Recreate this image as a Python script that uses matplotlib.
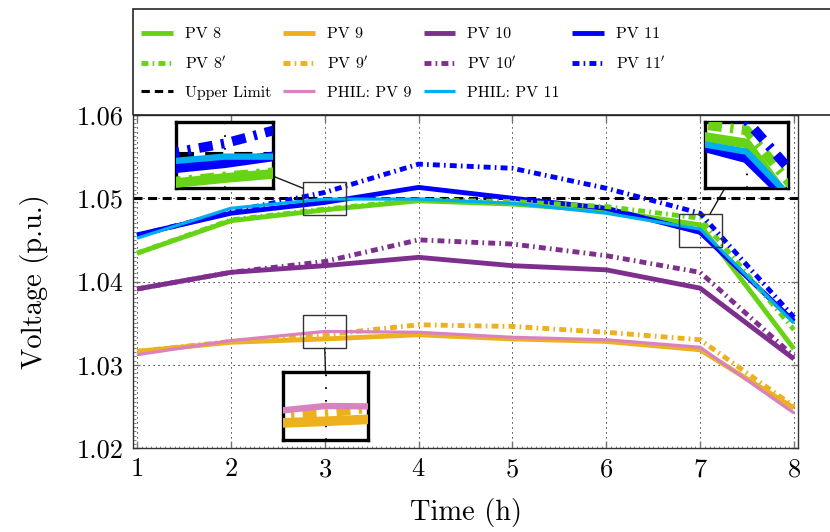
import matplotlib
matplotlib.use("Agg")
import matplotlib.pyplot as plt
from matplotlib.lines import Line2D
from matplotlib.patches import Rectangle, ConnectionPatch
from matplotlib.ticker import MultipleLocator, FormatStrFormatter

plt.rcParams['font.family'] = 'serif'
plt.rcParams['font.serif'] = ['cmr10', 'DejaVu Serif']
plt.rcParams['mathtext.fontset'] = 'cm'
plt.rcParams['axes.formatter.use_mathtext'] = True
plt.rcParams['axes.unicode_minus'] = False
plt.rcParams['lines.scale_dashes'] = False

# ---------------- data ----------------
hours = [1, 2, 3, 4, 5, 6, 7, 8]
pv8 = [1.0434, 1.0473, 1.0486, 1.0497, 1.0493, 1.0485, 1.0468, 1.0319]
pv9 = [1.0316, 1.0327, 1.0331, 1.0336, 1.0331, 1.0328, 1.0318, 1.0248]
pv10 = [1.0391, 1.0411, 1.0419, 1.0429, 1.0419, 1.0414, 1.0392, 1.0307]
pv11 = [1.0456, 1.0482, 1.0495, 1.0513, 1.0500, 1.0488, 1.0459, 1.0352]
pv8p = [1.0434, 1.0474, 1.0487, 1.0498, 1.0496, 1.0490, 1.0476, 1.0342]
pv9p = [1.0316, 1.0328, 1.0336, 1.0348, 1.0346, 1.0339, 1.0330, 1.0250]
pv10p = [1.0391, 1.0411, 1.0424, 1.0450, 1.0445, 1.0431, 1.0411, 1.0310]
pv11p = [1.0455, 1.0484, 1.0507, 1.0541, 1.0536, 1.0512, 1.0482, 1.0357]
phil9 = [1.0312, 1.0329, 1.0340, 1.0339, 1.0333, 1.0330, 1.0321, 1.0242]
phil11 = [1.0452, 1.0488, 1.0499, 1.0499, 1.0494, 1.0482, 1.0463, 1.0350]
upper_limit = 1.05

labels = {
    'pv8': 'PV 8', 'pv9': 'PV 9', 'pv10': 'PV 10', 'pv11': 'PV 11',
    'pv8p': r'PV 8$^{\prime}$', 'pv9p': r'PV 9$^{\prime}$',
    'pv10p': r'PV 10$^{\prime}$', 'pv11p': r'PV 11$^{\prime}$',
    'ul': 'Upper Limit', 'phil9': 'PHIL: PV 9', 'phil11': 'PHIL: PV 11',
}

GREEN = '#66d414'
ORANGE = '#edb120'
PURPLE = '#7e2f8e'
BLUE = '#0000ff'
PINK = '#da82be'
CYAN = '#00aeef'

DD = (5.0, 3.0, 1.2, 3.0)
series = [
    ('pv8', pv8, GREEN, 'solid', 3.5),
    ('pv9', pv9, ORANGE, 'solid', 3.5),
    ('pv10', pv10, PURPLE, 'solid', 3.5),
    ('pv11', pv11, BLUE, 'solid', 3.5),
    ('pv8p', pv8p, GREEN, 'dd', 3.5),
    ('pv9p', pv9p, ORANGE, 'dd', 3.5),
    ('pv10p', pv10p, PURPLE, 'dd', 3.5),
    ('pv11p', pv11p, BLUE, 'dd', 3.5),
    ('phil9', phil9, PINK, 'solid', 2.3),
    ('phil11', phil11, CYAN, 'solid', 2.3),
]


def draw(ax, scale=1.0):
    hs = {}
    for key, vals, col, ls, lw in series:
        if ls == 'dd':
            style = (0, tuple(d * scale for d in DD))
        else:
            style = '-'
        ln, = ax.plot(hours, vals, color=col, lw=lw * scale, linestyle=style,
                      solid_joinstyle='miter', solid_capstyle='butt',
                      dash_capstyle='butt', zorder=3)
        hs[key] = ln
    ul = ax.axhline(upper_limit, color='black', lw=2.2 * scale,
                    linestyle=(0, (6.5 * scale, 4.0 * scale)), zorder=2.5)
    hs['ul'] = ul
    for k in ('phil9', 'phil11'):
        hs[k].set_zorder(4)
    return hs


fig = plt.figure(figsize=(8.3, 5.32), dpi=100)
ax = fig.add_axes([133 / 830, 1 - 448 / 532, 665 / 830, 333 / 532])
hs = draw(ax)

ax.set_xlim(0.957, 8.043)
ax.set_ylim(1.02, 1.06)
ax.set_xticks(hours)
ax.set_yticks([1.02, 1.03, 1.04, 1.05, 1.06])
ax.yaxis.set_major_formatter(FormatStrFormatter('%.2f'))
ax.xaxis.set_minor_locator(MultipleLocator(0.05))
ax.yaxis.set_minor_locator(MultipleLocator(0.0005))
ax.tick_params(which='major', direction='in', length=5, width=1.0, color='0.45',
               top=True, right=True, labelsize=19, pad=7)
ax.tick_params(which='minor', direction='in', length=1.8, width=0.7, color='0.5',
               top=False, right=False)
ax.grid(True, which='major', color='black', lw=0.7, linestyle=(0, (0.8, 2.8)))
for s in ax.spines.values():
    s.set_color('0.2')
    s.set_linewidth(1.0)
ax.set_xlabel('Time (h)', fontsize=20.5, labelpad=12)
ax.set_ylabel('Voltage (p.u.)', fontsize=20.5, labelpad=20)

# ---------------- zoom rectangles & insets ----------------
zooms = [
    (3.0, 1.0500, [176 / 830, 1 - 188 / 532, 97 / 830, 66 / 532]),
    (3.0, 1.0340, [283 / 830, 1 - 440 / 532, 85 / 830, 68 / 532]),
    (7.0, 1.0461, [705 / 830, 1 - 188 / 532, 83 / 830, 66 / 532]),
]
hw, hh = 0.23, 0.0020
insets = []
for cx, cy, pos in zooms:
    ax.add_patch(Rectangle((cx - hw, cy - hh), 2 * hw, 2 * hh, fill=False,
                           edgecolor='0.2', lw=1.0, zorder=6))
    ia = fig.add_axes(pos)
    draw(ia, scale=2.0)
    ia.set_xlim(cx - hw, cx + hw)
    ia.set_ylim(cy - hh, cy + hh)
    ia.set_xticks([cx])
    ia.set_yticks([])
    ia.tick_params(length=0, labelbottom=False)
    ia.grid(True, axis='x', color='black', lw=1.4, linestyle=(0, (1.2, 8)))
    for s in ia.spines.values():
        s.set_linewidth(2.4)
        s.set_color('black')
    ia.set_zorder(10)
    insets.append(ia)

conns = [
    ((1.0, 0.18), insets[0], (3.0 - hw, 1.0512)),
    ((0.5, 1.0), insets[1], (3.0, 1.0340 - hh)),
    ((0.24, 0.0), insets[2], (7.105, 1.0461 + hh)),
]
for xyA, ia, xyB in conns:
    cp = ConnectionPatch(xyA=xyA, coordsA=ia.transAxes, xyB=xyB,
                         coordsB=ax.transData, color='0.1', lw=1.0)
    cp.set_zorder(9)
    fig.add_artist(cp)

# ---------------- legend ----------------
order = ['pv8', 'pv8p', 'ul', 'pv9', 'pv9p', 'phil9',
         'pv10', 'pv10p', 'phil11', 'pv11', 'pv11p']
leg_handles = []
for k in order:
    h = hs[k]
    lh = Line2D([], [], color=h.get_color(), lw=h.get_linewidth(),
                dash_capstyle='butt', solid_capstyle='butt')
    if k.endswith('p'):
        lh.set_dashes(DD)
    if k == 'ul':
        lh.set_linewidth(2.2)
        lh.set_dashes((6.0, 3.6))
    leg_handles.append(lh)
fig.legend(leg_handles, [labels[k] for k in order], ncol=4, frameon=False,
           loc='upper left', bbox_to_anchor=(133 / 830, 1 - 19 / 532),
           fontsize=11.5, handlelength=2.0, handletextpad=0.75,
           columnspacing=0.75, labelspacing=0.85, borderpad=0.0)
fig.add_artist(Rectangle((133 / 830, 1 - 115 / 532), (840 - 133) / 830,
                         (115 - 9) / 532, transform=fig.transFigure,
                         fill=False, edgecolor='0.15', lw=1.2))

fig.savefig('out.png', dpi=100)
